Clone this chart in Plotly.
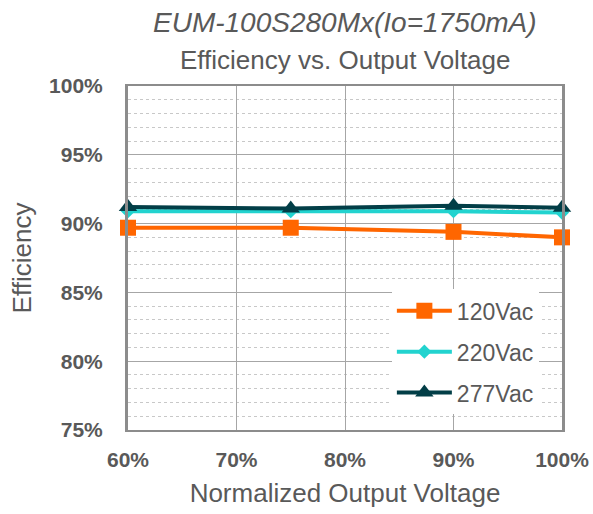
import plotly.graph_objects as go

x_vals = [0.60, 0.75, 0.90, 1.00]
eff_120 = [89.7, 89.7, 89.4, 89.0]
eff_220 = [90.9, 90.9, 90.9, 90.8]
eff_277 = [91.2, 91.1, 91.3, 91.15]
series_names = ["120Vac", "220Vac", "277Vac"]
x_ticks = [0.6, 0.7, 0.8, 0.9, 1.0]
x_tick_labels = ["<b>60%</b>", "<b>70%</b>", "<b>80%</b>", "<b>90%</b>", "<b>100%</b>"]
y_ticks = [75, 80, 85, 90, 95, 100]
y_tick_labels = ["<b>75%</b>", "<b>80%</b>", "<b>85%</b>", "<b>90%</b>", "<b>95%</b>", "<b>100%</b>"]
title_text = "EUM-100S280Mx(Io=1750mA)"
subtitle_text = "Efficiency vs. Output Voltage"

fig = go.Figure()
fig.add_trace(go.Scatter(x=x_vals, y=eff_120, name=series_names[0], mode="lines+markers",
                         legendgroup="a", cliponaxis=False,
                         line=dict(color="#FF6600", width=4),
                         marker=dict(symbol="square", size=16, color="#FF6600")))
fig.add_trace(go.Scatter(x=x_vals, y=eff_220, name=series_names[1], mode="lines+markers",
                         legendgroup="b", cliponaxis=False,
                         line=dict(color="#22D3CF", width=4),
                         marker=dict(symbol="diamond", size=11, color="#22D3CF")))
fig.add_trace(go.Scatter(x=x_vals, y=eff_277, name=series_names[2], mode="lines+markers",
                         legendgroup="c", cliponaxis=False,
                         line=dict(color="#023E47", width=4),
                         marker=dict(symbol="triangle-up", size=16, color="#023E47")))

font_family = "Arial, Liberation Sans, sans-serif"
fig.update_layout(
    width=593, height=514,
    margin=dict(l=128, r=31, t=86, b=84),
    paper_bgcolor="white", plot_bgcolor="white",
    font=dict(family=font_family, color="#595959"),
    xaxis=dict(range=[0.6, 1.0], tickvals=x_ticks, ticktext=x_tick_labels,
               automargin=False,
               showgrid=True, gridcolor="#A6A6A6", gridwidth=1.2,
               showline=True, linecolor="#8C8C8C", linewidth=2, mirror=True,
               tickfont=dict(size=21, color="#595959", family=font_family),
               ticks="", ticklabelstandoff=10,
               title=dict(text="Normalized Output Voltage", font=dict(size=26, color="#595959"), standoff=14),
               zeroline=False),
    yaxis=dict(range=[75, 100], tickvals=y_ticks, ticktext=y_tick_labels,
               automargin=False,
               showgrid=True, gridcolor="#A6A6A6", gridwidth=1.2,
               minor=dict(dtick=1, showgrid=True, gridcolor="#C8C8C8", griddash="dot", gridwidth=1),
               showline=True, linecolor="#8C8C8C", linewidth=3, mirror=True,
               tickfont=dict(size=21, color="#595959", family=font_family),
               ticks="", ticklabelstandoff=18,
               title=dict(text="Efficiency", font=dict(size=26, color="#595959"), standoff=10),
               zeroline=False),
    legend=dict(x=0.608, y=0.409, xanchor="left", yanchor="top",
                bgcolor="white", font=dict(size=23, color="#595959", family=font_family),
                tracegroupgap=8, itemwidth=55),
    showlegend=True,
    annotations=[
        dict(text="<i>" + title_text + "</i>", xref="paper", yref="paper", x=0.5, y=1,
             yshift=64, xanchor="center", yanchor="middle", showarrow=False,
             font=dict(size=28, color="#595959", family=font_family)),
        dict(text=subtitle_text, xref="paper", yref="paper", x=0.5, y=1,
             yshift=26, xanchor="center", yanchor="middle", showarrow=False,
             font=dict(size=26, color="#595959", family=font_family)),
    ],
)
fig.write_html("out.html", config={"displayModeBar": False},
               post_script="document.body.style.margin='0';document.body.style.overflow='hidden';")
